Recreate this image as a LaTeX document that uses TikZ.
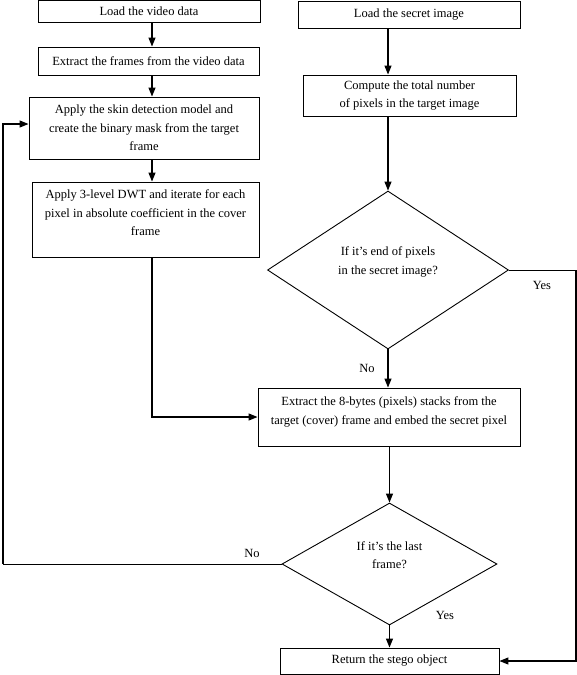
\documentclass[tikz,border=0pt]{standalone}
\usepackage{fontspec}
\setmainfont{Liberation Serif}
\usepackage{tikz}
\usetikzlibrary{shapes.geometric,arrows.meta}
\newcommand{\lowgap}[1]{\rule[-#1]{0pt}{0pt}}

\begin{document}
\begin{tikzpicture}[x=1pt,y=-1pt,
  txt/.style={font=\fontsize{12.5}{18.5}\selectfont, align=center},
  stepbox/.style={txt, draw, line width=0.9pt, inner sep=0pt},
  test/.style={txt, draw, diamond, line width=0.9pt, inner sep=0pt},
  flow/.style={line width=1.2pt, -{Triangle[length=9pt,width=7pt]}},
  rail/.style={line width=1pt}]
  \useasboundingbox (0,0) rectangle (577,675);
  % Columns and rails
  \coordinate (lcol) at (152,0);
  \coordinate (rcol) at (388,0);
  \coordinate (leftrail) at (3,564);
  \coordinate (rightrail) at (576,270);
  % Video branch
  \node[stepbox, minimum width=222, minimum height=22] (video) at (149,11.5) {Load the video data};
  \node[stepbox, minimum width=221, minimum height=28] (frames) at (148.5,61) {Extract the frames from the video data};
  \node[stepbox, minimum width=230, minimum height=62] (skin) at (144,128)
    {Apply the skin detection model and\\create the binary mask from the target\\frame};
  \node[stepbox, minimum width=227, minimum height=75] (dwt) at (145.5,219.5)
    {Apply 3-level DWT and iterate for each\\pixel in absolute coefficient in the cover\\frame\lowgap{13pt}};
  % Secret image branch
  \node[stepbox, minimum width=222, minimum height=27] (secret) at (409,14.5) {Load the secret image};
  \node[stepbox, minimum width=213, minimum height=41] (count) at (409.5,95.5)
    {Compute the total number\\of pixels in the target image};
  \node[test, minimum width=241, minimum height=158] (endpix) at (388,270)
    {If it’s end of pixels\\in the secret image?\lowgap{19pt}};
  % Embedding and loop
  \node[stepbox, minimum width=262, minimum height=58] (embed) at (389,417)
    {Extract the 8-bytes (pixels) stacks from the\\target (cover) frame and embed the secret pixel\lowgap{13pt}};
  \node[test, minimum width=215, minimum height=122] (last) at (389.5,564)
    {If it’s the last\\frame?\lowgap{18pt}};
  \node[stepbox, minimum width=219, minimum height=26] (ret) at (389.5,661) {Return the stego object};
  % Labels
  \node[txt] (no1) at (367,368) {No};
  \node[txt] (yes1) at (542,285) {Yes};
  \node[txt] (no2) at (252,553) {No};
  \node[txt] (yes2) at (445,615) {Yes};
  % Arrows
  \draw[flow] (video.south -| lcol) -- (frames.north -| lcol);
  \draw[flow] (frames.south -| lcol) -- (skin.north -| lcol);
  \draw[flow] (skin.south -| lcol) -- (dwt.north -| lcol);
  \draw[flow] (dwt.south -| lcol) |- (embed.west);
  \draw[flow] (secret.south -| rcol) -- (count.north -| rcol);
  \draw[flow] (count.south -| rcol) -- (endpix.north);
  \draw[flow] (endpix.south) -- (embed.north -| endpix.south);
  \draw[flow] (embed.south -| last.north) -- (last.north);
  \draw[flow] (last.south) -- (ret.north);
  \draw[rail] (endpix.east) -- (rightrail);
  \draw[flow] (rightrail) |- (ret.east);
  \draw[rail] (last.west) -- (leftrail);
  \draw[flow] (leftrail) |- ([yshift=4pt]skin.west);
\end{tikzpicture}
\end{document}
